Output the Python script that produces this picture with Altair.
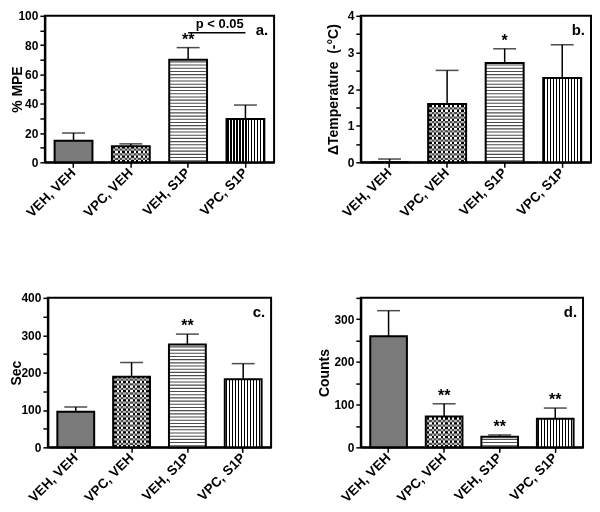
import altair as alt
import pandas as pd

# ---------------- data ----------------
groups = ["VEH, VEH", "VPC, VEH", "VEH, S1P", "VPC, S1P"]

mpe_mean = [14.7, 10.9, 70.0, 29.6]
mpe_hi = [20.0, 12.6, 78.3, 39.1]
mpe_stars = ["", "", "**", ""]

temp_mean = [0.0, 1.59, 2.71, 2.30]
temp_hi = [0.09, 2.51, 3.10, 3.21]
temp_stars = ["", "", "*", ""]

sec_mean = [95, 189, 275, 182]
sec_hi = [108, 227, 303, 224]
sec_stars = ["", "", "**", ""]

cnt_mean = [260, 72, 25, 67]
cnt_hi = [320, 102, 29, 92]
cnt_stars = ["", "**", "**", "**"]

p_pair = ["VEH, S1P", "VPC, S1P"]
p_level = [88.4]
p_text = ["p < 0.05"]

FONT = "Liberation Sans"
PAD_IN = 0.34


def vstripes(width_px, period, line, bg="white", fg="black"):
    """Horizontal linear gradient with hard stops -> vertical stripes."""
    stops = [{"offset": 0, "color": bg}]
    i = 0
    off = (period - line) / 2.0
    while True:
        s = (i * period + off) / width_px
        if s >= 1:
            break
        e = min(s + line / width_px, 1.0)
        stops += [
            {"offset": s, "color": bg},
            {"offset": s, "color": fg},
            {"offset": e, "color": fg},
            {"offset": e, "color": bg},
        ]
        i += 1
    stops.append({"offset": 1, "color": bg})
    return {"gradient": "linear", "x1": 0, "y1": 0, "x2": 1, "y2": 0, "stops": stops}


def panel(mean, hi, stars, dmax, step, title, letter, W, H, title_x, pval=False):
    df = pd.DataFrame({"group": groups, "mean": mean, "hi": hi, "star": stars})
    base = alt.Chart(df)

    xscale = alt.Scale(domain=groups, paddingInner=PAD_IN, paddingOuter=PAD_IN / 2)
    xaxis = alt.Axis(title=None, labelAngle=-45, labelAlign="right",
                     labelBaseline="middle", labelFontSize=13.5,
                     labelFontWeight="bold", tickSize=5, labelPadding=3)
    n = int(round(dmax / step))
    ticks = [round(i * step, 4) for i in range(n + 1)]
    yscale = alt.Scale(domain=[0, dmax], nice=False, zero=True)
    yaxis = alt.Axis(values=ticks, format=".0f",
                     labelExpr=f"abs(datum.value/{2*step} - round(datum.value/{2*step})) < 1e-6 ? datum.label : ''",
                     labelFontSize=12, labelFontWeight="bold", tickSize=5,
                     labelPadding=2, titleFontSize=14, titleFontWeight="bold",
                     titleX=title_x, titleY=H / 2, titleAngle=270,
                     titleAlign="center", titleBaseline="middle")

    def X(f="group", **kw):
        return alt.X(f"{f}:N", scale=xscale, axis=xaxis, **kw)

    def Y(f):
        return alt.Y(f"{f}:Q", scale=yscale, axis=yaxis, title=title)

    px = dmax / H  # data units per pixel
    bw = W / 4 * (1 - PAD_IN)
    layers = []
    for g, m in zip(groups, mean):
        b = base.transform_filter(alt.datum.group == g)
        if g == "VEH, VEH":
            layers.append(b.mark_bar(fill="#7a7a7a", strokeWidth=0).encode(x=X(), y=Y("mean")))
        elif g == "VPC, VEH":
            cell = 2.3
            layers.append(b.mark_bar(fill=vstripes(bw, 2 * cell, cell), strokeWidth=0)
                          .encode(x=X(), y=Y("mean")))
            if m > 2 * cell * px:
                seq = alt.sequence(1.5 * cell * px, m - 0.5 * cell * px, 2 * cell * px, as_="v")
                layers.append(alt.Chart(seq).transform_calculate(group=f"'{g}'")
                              .mark_tick(orient="horizontal", size=bw, thickness=cell,
                                         color="white", blend="difference")
                              .encode(x=X(), y=Y("v")))
        elif g == "VEH, S1P":
            layers.append(b.mark_bar(fill="white", strokeWidth=0).encode(x=X(), y=Y("mean")))
            period = 3.2
            if m > period * px:
                seq = alt.sequence(0.5 * period * px, m - 0.3 * period * px, period * px, as_="v")
                layers.append(alt.Chart(seq).transform_calculate(group=f"'{g}'")
                              .mark_tick(orient="horizontal", size=bw, thickness=1.1,
                                         color="black")
                              .encode(x=X(), y=Y("v")))
        else:
            layers.append(b.mark_bar(fill=vstripes(bw, 3.0, 1.1), strokeWidth=0)
                          .encode(x=X(), y=Y("mean")))

    layers.append(base.mark_bar(fillOpacity=0, stroke="black", strokeWidth=2)
                  .encode(x=X(), y=Y("mean")))
    layers.append(base.mark_rule(color="black", strokeWidth=1.5)
                  .encode(x=X(), y=Y("mean"), y2=alt.Y2("hi:Q")))
    layers.append(base.mark_tick(orient="horizontal", size=23, thickness=1.5, color="black")
                  .encode(x=X(), y=Y("hi")))
    layers.append(base.mark_text(dy=-3, baseline="alphabetic", fontSize=16,
                                 fontWeight="bold", color="black")
                  .encode(x=X(), y=Y("hi"), text="star:N"))
    layers.append(alt.Chart(pd.DataFrame({"t": [letter]}))
                  .mark_text(align="right", baseline="middle", fontSize=15,
                             fontWeight="bold", color="black")
                  .encode(x=alt.value(W - 6), y=alt.value(14), text="t:N"))

    if pval:
        pdf = pd.DataFrame({"g1": [p_pair[0]], "g2": [p_pair[1]],
                            "lvl": p_level, "txt": p_text})
        pc = alt.Chart(pdf)
        layers.append(pc.mark_rule(color="black", strokeWidth=1.5)
                      .encode(x=X("g1", bandPosition=0.5), x2=alt.X2("g2:N"), y=Y("lvl")))
        layers.append(pc.mark_text(baseline="bottom", dy=-2, dx=W / 8 + 3,
                                   fontSize=13, fontWeight="bold", color="black")
                      .encode(x=X("g1"), y=Y("lvl"), text="txt:N"))

    return alt.layer(*layers).properties(width=W, height=H)


pa = panel(mpe_mean, mpe_hi, mpe_stars, 100, 10, "% MPE", "a.", 230, 147, -27, pval=True)
pb = panel(temp_mean, temp_hi, temp_stars, 4, 0.5,
           "\u0394Temperature \u00a0(-\u00b0C)", "b.", 231, 147, -27)
pc = panel(sec_mean, sec_hi, sec_stars, 400, 50, "Sec", "c.", 224, 150, -31.5)
pd_ = panel(cnt_mean, cnt_hi, cnt_stars, 350, 50, "Counts", "d.", 223, 150, -36)

chart = (
    alt.concat(pa, pb, pc, pd_, columns=2, spacing={"row": 136, "column": 87},
               bounds="flush", center=True)
    .properties(padding={"left": 0, "top": 0, "right": 0, "bottom": -2})
    .configure_view(stroke="black", strokeWidth=2)
    .configure_axis(domainColor="black", domainWidth=2, tickColor="black",
                    tickWidth=1.5, labelColor="black", titleColor="black",
                    labelFont=FONT, titleFont=FONT, grid=False)
    .configure_text(font=FONT)
)

chart.save("out.html", embed_options={"renderer": "svg", "actions": False})
